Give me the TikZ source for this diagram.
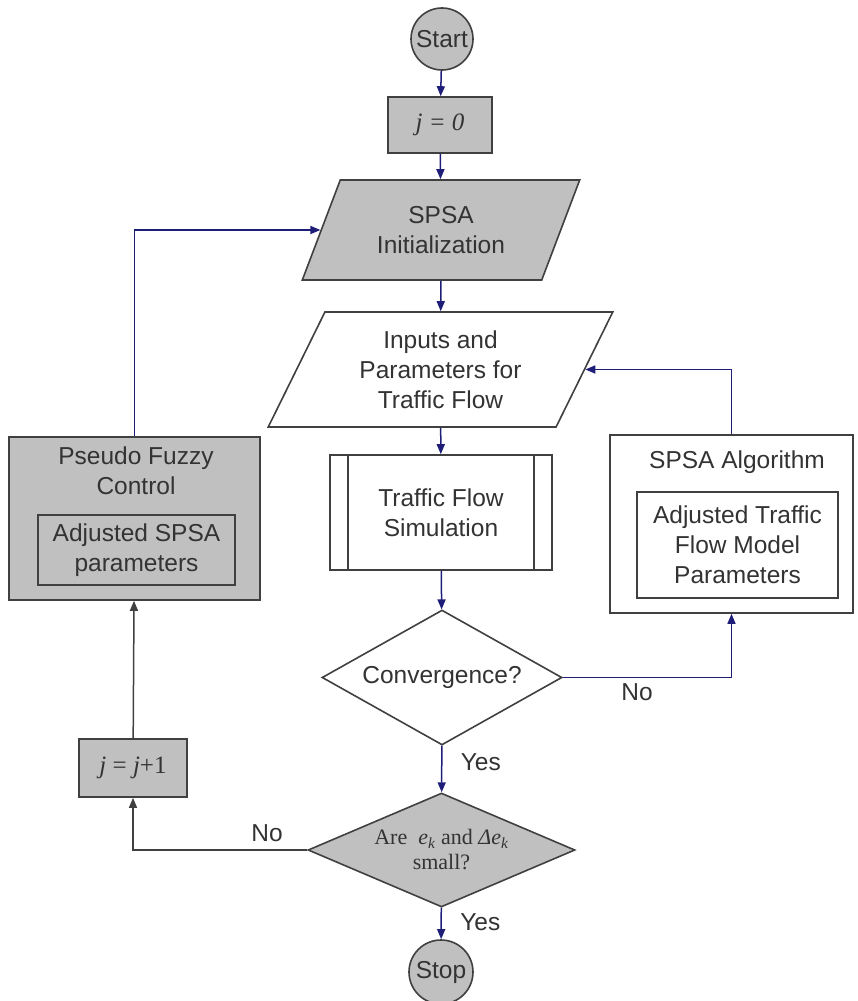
\documentclass[tikz,border=0pt]{standalone}
\usepackage{fontspec}
\setmainfont{Liberation Sans}
\newfontfamily\seriffont{Liberation Serif}
\usetikzlibrary{shapes.geometric,arrows.meta,positioning}

\definecolor{boxgray}{RGB}{192,192,192}
\definecolor{edgegray}{RGB}{64,64,64}
\definecolor{textgray}{RGB}{51,51,51}
\definecolor{flowblue}{RGB}{30,30,120}

\begin{document}
\begin{tikzpicture}[x=1pt,y=-1pt,
    every node/.style={text=textgray,align=center,font=\fontsize{24.5}{30}\selectfont},
    box/.style={rectangle,draw=edgegray,line width=1.6pt,inner sep=0pt},
    io/.style={trapezium,trapezium left angle=63,trapezium right angle=117,
        trapezium stretches=true,draw=edgegray,line width=1.6pt,inner sep=0pt},
    decision/.style={diamond,draw=edgegray,line width=1.6pt,inner sep=0pt},
    terminal/.style={circle,draw=edgegray,line width=1.6pt,fill=boxgray,inner sep=0pt},
    flow/.style={draw=flowblue,line width=1.5pt,-{Triangle[length=10pt,width=8pt]}},
    back/.style={draw=edgegray,line width=1.5pt,-{Triangle[length=10pt,width=8pt]}},
    serifbig/.style={font=\seriffont\fontsize{25}{30}\selectfont},
    serifsmall/.style={font=\seriffont\fontsize{22}{25}\selectfont}]

\useasboundingbox (0,0) rectangle (857,1001);

% Main column
\node[terminal,minimum size=62pt] (start) at (442,39) {Start};
\node[box,fill=boxgray,serifbig,minimum width=104pt,minimum height=56pt] (j0) at (440,125) {\itshape j = 0};
\node[io,fill=boxgray,minimum width=278pt,minimum height=100pt] (init) at (441,230) {SPSA\\Initialization};
\node[io,fill=white,minimum width=345pt,minimum height=115pt] (inputs) at (440.5,369.5) {Inputs and\\Parameters for\\Traffic Flow};
\node[box,fill=white,minimum width=222pt,minimum height=115pt] (sim) at (441,512.5) {Traffic Flow\\Simulation};
\draw[edgegray,line width=1.6pt] ([xshift=19pt]sim.north west) -- ([xshift=19pt]sim.south west);
\draw[edgegray,line width=1.6pt] ([xshift=-19pt]sim.north east) -- ([xshift=-19pt]sim.south east);
\node[decision,fill=white,aspect=1.78,minimum width=240pt,minimum height=135pt] (conv) at (442,677.5) {Convergence?};
\node[decision,fill=boxgray,serifsmall,aspect=2.34,minimum width=267pt,minimum height=114pt] (small) at (441.5,850)
    {Are~ \textit{e}\textsubscript{\textit{k}} and \textit{Δe}\textsubscript{\textit{k}}\\small?};
\node[terminal,minimum size=64pt] (stop) at (441,972) {Stop};

% SPSA algorithm
\node[box,fill=white,minimum width=243pt,minimum height=178pt] (alg) at (731.5,524) {};
\node (algtitle) at (737,462) {SPSA Algorithm};
\node[box,fill=white,minimum width=201pt,minimum height=106pt] (algpar) at (737.5,545) {Adjusted Traffic\\Flow Model\\Parameters};

% Pseudo fuzzy control
\node[box,fill=boxgray,minimum width=251pt,minimum height=163pt] (pfc) at (134.5,518.5) {};
\node (pfctitle) at (136,471) {Pseudo Fuzzy\\Control};
\node[box,fill=boxgray,minimum width=197pt,minimum height=70pt] (pfcpar) at (136.5,550) {Adjusted SPSA\\parameters};
\node[box,fill=boxgray,serifbig,minimum width=108pt,minimum height=58pt] (jinc) at (133,768) {\textit{j} = \textit{j}+1};

% Connectors
\draw[flow] (start) -- (j0);
\draw[flow] (j0) -- (init);
\draw[flow] (init) -- (inputs);
\draw[flow] (inputs) -- (sim);
\draw[flow] (sim) -- (conv);
\draw[flow] (conv) -- (small) node[pos=0.35,right=15pt] {Yes};
\draw[flow] (small) -- (stop) node[pos=0.45,right=15pt] {Yes};
\draw[flow] (conv.east) -| (alg.south) node[pos=0.22,below=2pt] {No};
\draw[flow] (alg.north) |- (inputs.east);
\draw[back] (small.west) -| (jinc.south) node[pos=0.115,above=4pt] {No};
\draw[back] (jinc) -- (pfc);
\draw[flow] (pfc.north) |- (init.west);

\end{tikzpicture}
\end{document}
